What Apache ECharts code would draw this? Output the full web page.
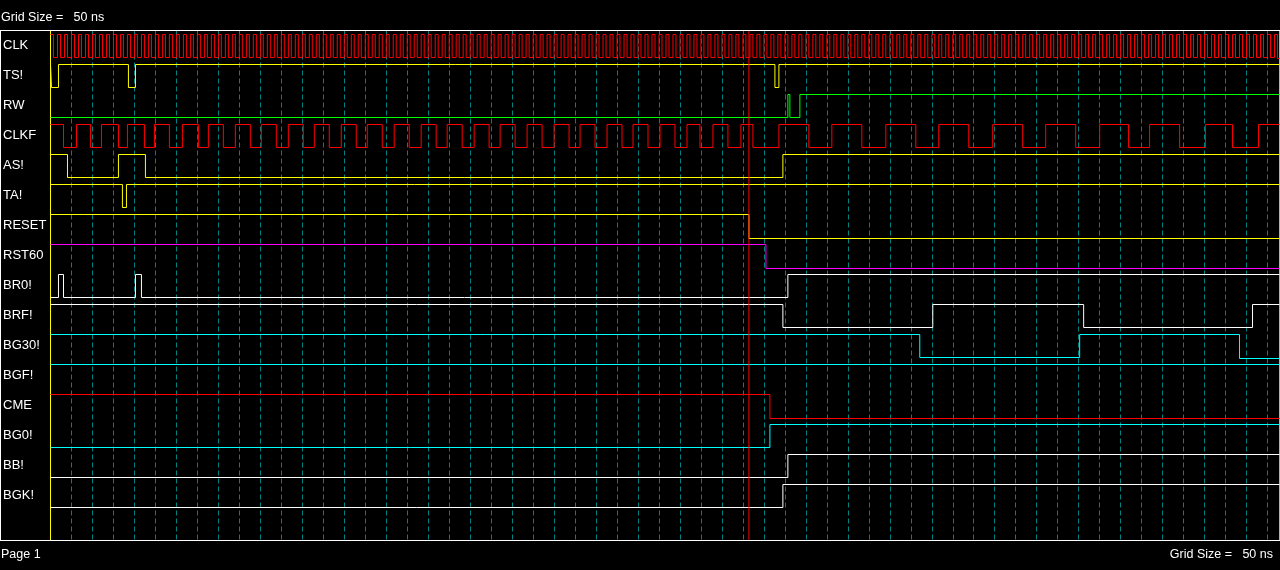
<!DOCTYPE html>
<html><head><meta charset="utf-8">
<script src="https://cdn.jsdelivr.net/npm/echarts@6/dist/echarts.min.js"></script>
<style>html,body{margin:0;padding:0;background:#000;}#c{width:1280px;height:570px;}</style>
</head><body><div id="c"></div>
<script>
// ---- data (times in ns) ----
const signalNames = ['CLK','TS!','RW','CLKF','AS!','TA!','RESET','RST60','BR0!','BRF!','BG30!','BGF!','CME','BG0!','BB!','BGK!'];
const signalColors = ['#ff0000','#ffff00','#00ff00','#ff0000','#ffff00','#ffff00','#ffff00','#ff00ff','#ffffff','#ffffff','#00ffff','#00ffff','#ff0000','#00ffff','#ffffff','#ffffff'];
const initialLevels = [1,1,0,1,1,1,1,1,0,1,1,1,1,0,0,0];
const clkEdges = [
7.1,16.7,23.8,33.3,40.5,50, 57.1,66.7,73.8,83.3,90.5,100, 107.1,116.7,123.8,133.3,140.5,150,
157.1,166.7,173.8,183.3,190.5,200, 207.1,216.7,223.8,233.3,240.5,250, 257.1,266.7,273.8,283.3,290.5,300,
307.1,316.7,323.8,333.3,340.5,350, 357.1,366.7,373.8,383.3,390.5,400, 407.1,416.7,423.8,433.3,440.5,450,
457.1,466.7,473.8,483.3,490.5,500, 507.1,516.7,523.8,533.3,540.5,550, 557.1,566.7,573.8,583.3,590.5,600,
607.1,616.7,623.8,633.3,640.5,650, 657.1,666.7,673.8,683.3,690.5,700, 707.1,716.7,723.8,733.3,740.5,750,
757.1,766.7,773.8,783.3,790.5,800, 807.1,816.7,823.8,833.3,840.5,850, 857.1,866.7,873.8,883.3,890.5,900,
907.1,916.7,923.8,933.3,940.5,950, 957.1,966.7,973.8,983.3,990.5,1000, 1007.1,1016.7,1023.8,1033.3,1040.5,1050,
1057.1,1066.7,1073.8,1083.3,1090.5,1100, 1107.1,1116.7,1123.8,1133.3,1140.5,1150, 1157.1,1166.7,1173.8,1183.3,1190.5,1200,
1207.1,1216.7,1223.8,1233.3,1240.5,1250, 1257.1,1266.7,1273.8,1283.3,1290.5,1300, 1307.1,1316.7,1323.8,1333.3,1340.5,1350,
1357.1,1366.7,1373.8,1383.3,1390.5,1400, 1407.1,1416.7,1423.8,1433.3,1440.5,1450, 1457.1,1466.7,1473.8,1483.3,1490.5,1500,
1507.1,1516.7,1523.8,1533.3,1540.5,1550, 1557.1,1566.7,1573.8,1583.3,1590.5,1600, 1607.1,1616.7,1623.8,1633.3,1640.5,1650,
1657.1,1666.7,1673.8,1683.3,1690.5,1700, 1707.1,1716.7,1723.8,1733.3,1740.5,1750, 1757.1,1766.7,1773.8,1783.3,1790.5,1800,
1807.1,1816.7,1823.8,1833.3,1840.5,1850, 1857.1,1866.7,1873.8,1883.3,1890.5,1900, 1907.1,1916.7,1923.8,1933.3,1940.5,1950,
1957.1,1966.7,1973.8,1983.3,1990.5,2000, 2007.1,2016.7,2023.8,2033.3,2040.5,2050, 2057.1,2066.7,2073.8,2083.3,2090.5,2100,
2107.1,2116.7,2123.8,2133.3,2140.5,2150, 2157.1,2166.7,2173.8,2183.3,2190.5,2200, 2207.1,2216.7,2223.8,2233.3,2240.5,2250,
2257.1,2266.7,2273.8,2283.3,2290.5,2300, 2307.1,2316.7,2323.8,2333.3,2340.5,2350, 2357.1,2366.7,2373.8,2383.3,2390.5,2400,
2407.1,2416.7,2423.8,2433.3,2440.5,2450, 2457.1,2466.7,2473.8,2483.3,2490.5,2500, 2507.1,2516.7,2523.8,2533.3,2540.5,2550,
2557.1,2566.7,2573.8,2583.3,2590.5,2600, 2607.1,2616.7,2623.8,2633.3,2640.5,2650, 2657.1,2666.7,2673.8,2683.3,2690.5,2700,
2707.1,2716.7,2723.8,2733.3,2740.5,2750, 2757.1,2766.7,2773.8,2783.3,2790.5,2800, 2807.1,2816.7,2823.8,2833.3,2840.5,2850,
2857.1,2866.7,2873.8,2883.3,2890.5,2900, 2907.1,2916.7,2923.8
];
const tsEdges = [2.4,19.0,185.7,202.4,1726.2,1735.7];
const rwEdges = [1757.1,1761.9,1785.7];
const clkfEdges = [31.0,61.9,95.2,121.4,161.9,183.3,223.8,247.6,283.3,314.3,352.4,376.2,411.9,440.5,476.2,502.4,538.1,566.7,602.4,628.6,
664.3,692.9,728.6,754.8,790.5,819.0,854.8,883.3,919.0,945.2,981.0,1009.5,1045.2,1071.4,1107.1,1135.7,1171.4,1200.0,1235.7,1261.9,
1297.6,1326.2,1361.9,1388.1,1423.8,1452.4,1488.1,1516.7,1547.6,1578.6,1614.3,1645.2,1673.8,1735.7,1807.1,1861.9,1933.3,1990.5,
2061.9,2116.7,2188.1,2245.2,2316.7,2371.4,2442.9,2500.0,2569.0,2619.0,2690.5,2752.4,2816.7,2878.6];
const asEdges = [40.5,161.9,226.2,1745.2];
const taEdges = [171.4,181.0];
const resetEdges = [1664.3];
const rst60Edges = [1704.8];
const br0Edges = [19.0,31.0,202.4,216.7,1757.1];
const brfEdges = [1745.2,2102.4,2461.9,2864.3];
const bg30Edges = [2071.4,2452.4,2833.3];
const bgfEdges = [];
const cmeEdges = [1714.3];
const bg0Edges = [1714.3];
const bbEdges = [1757.1];
const bgkEdges = [1745.2];
const allEdges = [clkEdges,tsEdges,rwEdges,clkfEdges,asEdges,taEdges,resetEdges,rst60Edges,br0Edges,brfEdges,bg30Edges,bgfEdges,cmeEdges,bg0Edges,bbEdges,bgkEdges];
const endTime = 2928.6;
const cursorTime = 1664.3;
const gridStep = 50;
const gridLabel = 'Grid Size =   50 ns';
const pageLabel = 'Page 1';

// ---- layout ----
const ROWS = 17, HIGH_OFF = 4/30, LOW_OFF = 27/30, LAST_LOW_OFF = 28/30;
function wave(row, init, edges){
  let lvl = init;
  const finalLvl = edges.length % 2 ? 1 - init : init;
  const y = (l, last) => row + (l ? HIGH_OFF : (last ? LAST_LOW_OFF : LOW_OFF));
  const pts = [[0, y(lvl, edges.length === 0)]];
  edges.forEach((t, k) => {
    const isLast = k === edges.length - 1;
    pts.push([t, y(lvl, false)]);
    lvl = 1 - lvl;
    pts.push([t, y(lvl, isLast && finalLvl === 0)]);
  });
  pts.push([endTime, y(lvl, finalLvl === 0)]);
  return pts;
}
const series = signalNames.map((n,i) => ({
  type:'line', name:n, data: wave(i, initialLevels[i], allEdges[i]),
  color: signalColors[i], showSymbol:false, symbol:'none', animation:false, silent:true,
  emphasis:{disabled:true}, clip:false,
  lineStyle:{color:signalColors[i], width:1, opacity:1}, z:2
}));
series.push({type:'line', name:'cursor', data:[[cursorTime, 0],[cursorTime, ROWS]], color:'#ff0000',
  showSymbol:false, symbol:'none', animation:false, silent:true, emphasis:{disabled:true}, clip:false,
  lineStyle:{color:'#ff0000', width:1, opacity:1}, z:10});

const FONT = 'Liberation Sans, Arial, sans-serif';
const chart = echarts.init(document.getElementById('c'), null, {renderer:'canvas'});
chart.setOption({
  backgroundColor:'#000',
  animation:false,
  grid:{left:49.5, top:30.5, width:1230, height:510, containLabel:false},
  xAxis:{type:'value', min:0, max:endTime, interval:gridStep,
    axisLine:{show:false}, axisTick:{show:false}, axisLabel:{show:false},
    splitLine:{show:true, showMinLine:false, showMaxLine:false, lineStyle:{color:'#008080', width:1, type:[5,3]}}},
  yAxis:[
    {type:'value', min:0, max:ROWS, inverse:true, position:'left',
      axisLine:{show:true, lineStyle:{color:'#ffff00', width:1}}, axisTick:{show:false}, axisLabel:{show:false}, splitLine:{show:false}},
    {type:'category', data: signalNames.concat(['']), inverse:true, position:'left', boundaryGap:true,
      axisLine:{show:false}, axisTick:{show:false}, splitLine:{show:false},
      axisLabel:{show:true, interval:0, color:'#ffffff', align:'left', verticalAlign:'middle', padding:[3,0,0,0], margin:47.5, fontSize:13, fontFamily:FONT}},
    {type:'value', min:0, max:ROWS, position:'right',
      axisLine:{show:true, lineStyle:{color:'#00ffff', width:1}}, axisTick:{show:false}, axisLabel:{show:false}, splitLine:{show:false}}
  ],
  series: series,
  graphic:[
    {type:'line', shape:{x1:0, y1:30.5, x2:1280, y2:30.5}, style:{stroke:'#ffffff', lineWidth:1}, z:20},
    {type:'line', shape:{x1:0, y1:540.5, x2:1280, y2:540.5}, style:{stroke:'#ffffff', lineWidth:1}, z:20},
    {type:'line', shape:{x1:0.5, y1:30, x2:0.5, y2:541}, style:{stroke:'#ffffff', lineWidth:1}, z:20},
    {type:'text', x:1, y:17.5, style:{text:gridLabel, fill:'#ffffff', font:'12.5px '+FONT, textVerticalAlign:'middle'}, z:20},
    {type:'text', x:1, y:554.5, style:{text:pageLabel, fill:'#ffffff', font:'12.5px '+FONT, textVerticalAlign:'middle'}, z:20},
    {type:'text', x:1273, y:554.5, style:{text:gridLabel, fill:'#ffffff', font:'12.5px '+FONT, textAlign:'right', textVerticalAlign:'middle'}, z:20}
  ]
});
</script></body></html>
